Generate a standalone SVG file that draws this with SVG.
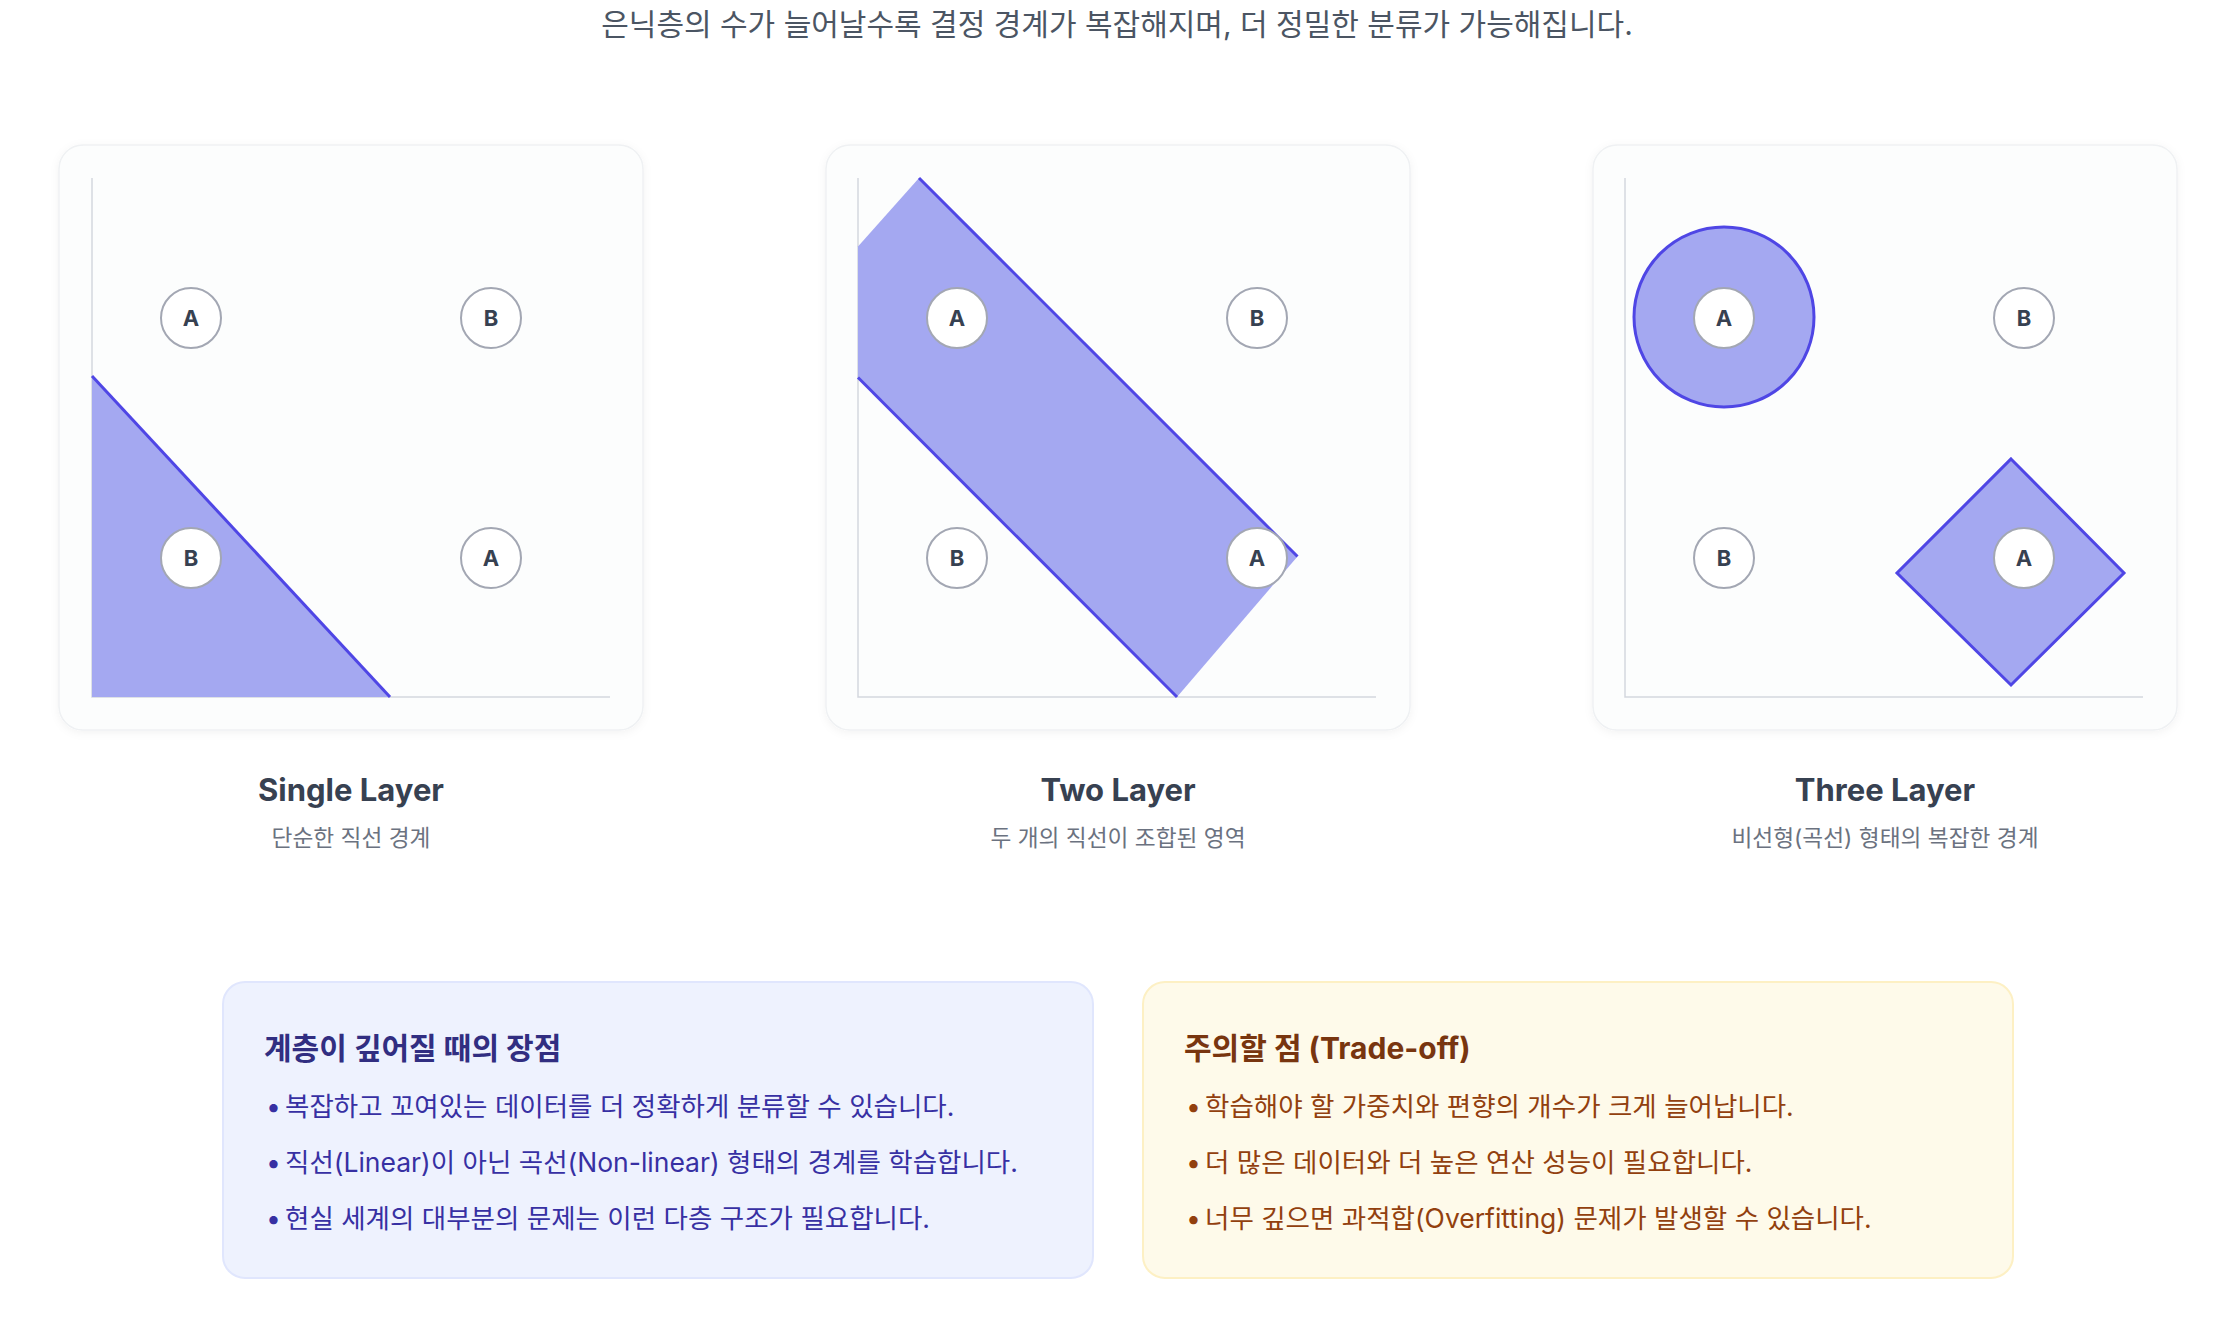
<svg xmlns="http://www.w3.org/2000/svg" width="2234" height="1332" viewBox="0 0 2234 1332">
<defs>
<filter id="sh" x="-5%" y="-5%" width="110%" height="110%">
<feDropShadow dx="0" dy="2" stdDeviation="4" flood-color="#000" flood-opacity="0.05"/>
</filter>
</defs>
<style>
text{font-family:Inter,"Noto Sans CJK KR",sans-serif}
.card{fill:#fcfdfd;stroke:#eff1f3;stroke-width:1.5}
.axis{stroke:#d4d7de;stroke-width:1.5;fill:none}
.region{fill:#a4a8f1;stroke:none}
.edge{stroke:#4f46e5;stroke-width:3;fill:none}
.shape{fill:#a4a8f1;stroke:#4f46e5;stroke-width:3}
.pt circle{fill:#fff;stroke:#a3a7b3;stroke-width:2}
.pt text{font-size:22px;font-weight:700;fill:#374151;text-anchor:middle}
.title{font-size:31px;font-weight:700;fill:#374151;text-anchor:middle}
.sub{font-size:22.7px;fill:#6b7280;text-anchor:middle}
.top{font-size:30px;fill:#4b5563;text-anchor:middle}
.h1{font-size:30px;font-weight:700;fill:#312e81}
.b1{font-size:26.5px;fill:#3730a3}
.h2{font-size:30px;font-weight:700;fill:#78350f}
.b2{font-size:26.5px;fill:#92400e}
</style>
<rect width="2234" height="1332" fill="#ffffff"/>
<text class="top" x="1117" y="35">은닉층의 수가 늘어날수록 결정 경계가 복잡해지며, 더 정밀한 분류가 가능해집니다.</text>

<g id="single-layer">
<rect class="card" x="59" y="145" width="584" height="585" rx="24" filter="url(#sh)"/>
<path class="axis" d="M92 178 V697 H610"/>
<polygon class="region" points="92,376 390,697 92,697"/>
<line class="edge" x1="92" y1="376" x2="390" y2="697"/>
<g class="pt"><circle cx="191" cy="318" r="30"/><text x="191" y="326">A</text></g>
<g class="pt"><circle cx="491" cy="318" r="30"/><text x="491" y="326">B</text></g>
<g class="pt"><circle cx="191" cy="558" r="30"/><text x="191" y="566">B</text></g>
<g class="pt"><circle cx="491" cy="558" r="30"/><text x="491" y="566">A</text></g>
<text class="title" x="351" y="801">Single Layer</text>
<text class="sub" x="351" y="846">단순한 직선 경계</text>
</g>

<g id="two-layer">
<rect class="card" x="826" y="145" width="584" height="585" rx="24" filter="url(#sh)"/>
<path class="axis" d="M858 178 V697 H1376"/>
<polygon class="region" points="919,178 1297.5,556.5 1177,697 858,377.5 858,246.5"/>
<line class="edge" x1="919" y1="178" x2="1297.5" y2="556.5"/>
<line class="edge" x1="858" y1="377.5" x2="1177" y2="697"/>
<g class="pt"><circle cx="957" cy="318" r="30"/><text x="957" y="326">A</text></g>
<g class="pt"><circle cx="1257" cy="318" r="30"/><text x="1257" y="326">B</text></g>
<g class="pt"><circle cx="957" cy="558" r="30"/><text x="957" y="566">B</text></g>
<g class="pt"><circle cx="1257" cy="558" r="30"/><text x="1257" y="566">A</text></g>
<text class="title" x="1118" y="801">Two Layer</text>
<text class="sub" x="1118" y="846">두 개의 직선이 조합된 영역</text>
</g>

<g id="three-layer">
<rect class="card" x="1593" y="145" width="584" height="585" rx="24" filter="url(#sh)"/>
<path class="axis" d="M1625 178 V697 H2143"/>
<circle class="shape" cx="1724" cy="317" r="90"/>
<polygon class="shape" points="2011,459 2124,573 2011,685 1897,573"/>
<g class="pt"><circle cx="1724" cy="318" r="30"/><text x="1724" y="326">A</text></g>
<g class="pt"><circle cx="2024" cy="318" r="30"/><text x="2024" y="326">B</text></g>
<g class="pt"><circle cx="1724" cy="558" r="30"/><text x="1724" y="566">B</text></g>
<g class="pt"><circle cx="2024" cy="558" r="30"/><text x="2024" y="566">A</text></g>
<text class="title" x="1885" y="801">Three Layer</text>
<text class="sub" x="1885" y="846">비선형(곡선) 형태의 복잡한 경계</text>
</g>

<g id="advantages">
<rect x="223" y="982" width="870" height="296" rx="22" fill="#eef2fe" stroke="#e0e6fd" stroke-width="2"/>
<text class="h1" x="264" y="1059">계층이 깊어질 때의 장점</text>
<text class="b1" x="266" y="1116">•</text><text class="b1" x="285" y="1116">복잡하고 꼬여있는 데이터를 더 정확하게 분류할 수 있습니다.</text>
<text class="b1" x="266" y="1172">•</text><text class="b1" x="285" y="1172">직선(Linear)이 아닌 곡선(Non-linear) 형태의 경계를 학습합니다.</text>
<text class="b1" x="266" y="1228">•</text><text class="b1" x="285" y="1228">현실 세계의 대부분의 문제는 이런 다층 구조가 필요합니다.</text>
</g>

<g id="tradeoff">
<rect x="1143" y="982" width="870" height="296" rx="22" fill="#fefaea" stroke="#fdf0c4" stroke-width="2"/>
<text class="h2" x="1184" y="1059">주의할 점 (Trade-off)</text>
<text class="b2" x="1186" y="1116">•</text><text class="b2" x="1205" y="1116">학습해야 할 가중치와 편향의 개수가 크게 늘어납니다.</text>
<text class="b2" x="1186" y="1172">•</text><text class="b2" x="1205" y="1172">더 많은 데이터와 더 높은 연산 성능이 필요합니다.</text>
<text class="b2" x="1186" y="1228">•</text><text class="b2" x="1205" y="1228">너무 깊으면 과적합(Overfitting) 문제가 발생할 수 있습니다.</text>
</g>
</svg>
